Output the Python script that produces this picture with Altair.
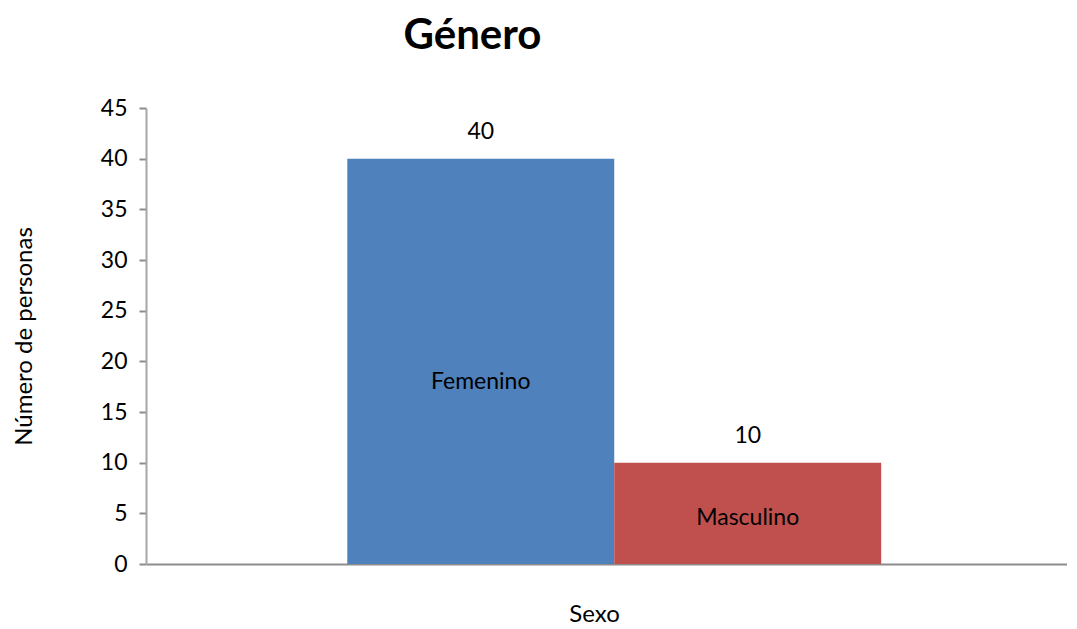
import altair as alt
import pandas as pd

categories = ["Femenino", "Masculino"]
values = [40, 10]
colors = ["#4F81BD", "#C0504D"]
y_ticks = [0, 5, 10, 15, 20, 25, 30, 35, 40, 45]

df = pd.DataFrame({"Sexo": categories, "Personas": values})

FONT = "Lato"

x_enc = alt.X(
    "Sexo:N",
    sort=categories,
    scale=alt.Scale(paddingInner=0, paddingOuter=0.725, align=0.52),
    axis=alt.Axis(
        title="Sexo", labels=False, ticks=False, domainColor="#8c8c8c",
        domainWidth=2, titleFont=FONT, titleFontSize=24, titleFontWeight="normal",
        titleColor="black", titlePadding=38, titleX=448,
    ),
)

base = alt.Chart(df)

bars = base.mark_bar().encode(
    x=x_enc,
    y=alt.Y(
        "Personas:Q",
        scale=alt.Scale(domain=[0, 45], nice=False),
        axis=alt.Axis(
            title="Número de personas", values=y_ticks, grid=False,
            domainColor="#a6a6a6", domainWidth=2, tickColor="#8c8c8c", tickSize=7,
            tickWidth=2, labelFont=FONT, labelFontSize=23, labelColor="black",
            labelPadding=12, titleFont=FONT, titleFontSize=24,
            titleFontWeight="normal", titleColor="black", titlePadding=64,
        ),
    ),
    color=alt.Color("Sexo:N", scale=alt.Scale(domain=categories, range=colors), legend=None),
)

value_labels = base.mark_text(font=FONT, fontSize=23, color="black", baseline="middle", dy=-27).encode(
    x=alt.X("Sexo:N", sort=categories),
    y=alt.Y("Personas:Q"),
    text=alt.Text("Personas:Q"),
)

cat_labels = base.transform_calculate(mid="datum.Personas * 0.45").mark_text(
    font=FONT, fontSize=23, color="black", baseline="middle"
).encode(
    x=alt.X("Sexo:N", sort=categories),
    y=alt.Y("mid:Q"),
    text="Sexo:N",
)

chart = (
    alt.layer(bars, value_labels, cat_labels)
    .properties(
        width=921,
        height=456,
        padding={"left": 138, "top": 100, "right": 0, "bottom": 64},
        autosize="none",
        title=alt.TitleParams(
            "Género", font=FONT, fontSize=42, fontWeight="bold", color="black",
            anchor="middle", dx=-134, offset=39,
        ),
    )
    .configure_view(stroke=None)
)

chart.save("out.html", embed_options={"renderer": "svg", "actions": False})
